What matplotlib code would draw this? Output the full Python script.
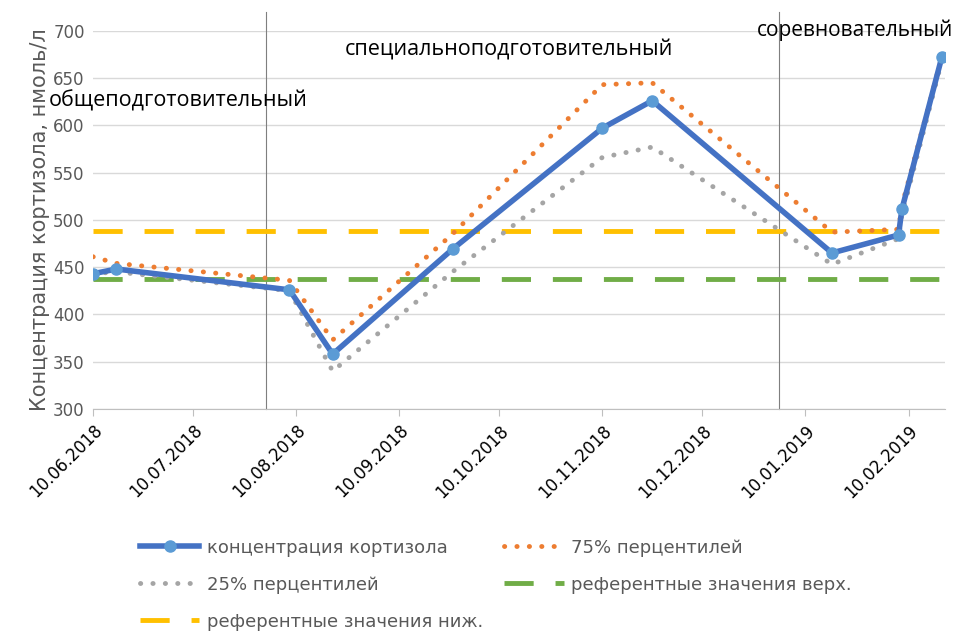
import datetime as dt
import matplotlib
matplotlib.use('Agg')
import matplotlib.pyplot as plt
import matplotlib.dates as mdates

# Data
dates = ['10.06.2018', '17.06.2018', '08.08.2018', '21.08.2018', '26.09.2018',
         '10.11.2018', '25.11.2018', '18.01.2019', '07.02.2019', '08.02.2019',
         '20.02.2019']
cortisol = [443, 448, 426, 358, 469, 597, 626, 465, 484, 511, 672]
p75 = [461, 454, 436, 373, 485, 643, 645, 487, 490, 515, 672]
p25 = [443, 445, 425, 340, 445, 566, 577, 453, 480, 505, 668]
ref_upper = [437] * len(dates)
ref_lower = [488] * len(dates)

tick_dates = ['10.06.2018', '10.07.2018', '10.08.2018', '10.09.2018', '10.10.2018',
              '10.11.2018', '10.12.2018', '10.01.2019', '10.02.2019']
phase_bounds = ['01.08.2018', '02.01.2019']

to_date = lambda s: dt.datetime.strptime(s, '%d.%m.%Y')
x = [to_date(d) for d in dates]

txt_grey = '#595959'
dots = (0, (0.05, 2.5))

fig = plt.figure(figsize=(9.65, 6.41), dpi=100)
ax = fig.add_axes([0.0964, 0.362, 0.883, 0.590])

# Reference lines
ax.plot(x, ref_upper, color='#70AD47', lw=3.5, dashes=(6, 4.5), label='референтные значения верх.')
ax.plot(x, ref_lower, color='#FFC000', lw=3.5, dashes=(6, 4.5), label='референтные значения ниж.')
# Percentiles
ax.plot(x, p25, color='#A5A5A5', lw=3.5, linestyle=dots, dash_capstyle='round',
        label='25% перцентилей')
ax.plot(x, p75, color='#ED7D31', lw=3.5, linestyle=dots, dash_capstyle='round',
        label='75% перцентилей')
# Main series
ax.plot(x, cortisol, color='#4472C4', lw=4, marker='o', markersize=8,
        markerfacecolor='#5B9BD5', markeredgecolor='#5B9BD5', label='концентрация кортизола')

# Phase boundaries
for b in phase_bounds:
    ax.plot([to_date(b)] * 2, [300, 720], color='#7F7F7F', lw=0.8, clip_on=False, zorder=1)

ax.set_xlim(to_date('10.06.2018'), to_date('21.02.2019'))
ax.set_ylim(300, 700)
ax.set_yticks(range(300, 701, 50))
ax.set_xticks([to_date(d) for d in tick_dates])
ax.xaxis.set_major_formatter(mdates.DateFormatter('%d.%m.%Y'))
ax.grid(axis='y', color='#D9D9D9', lw=1)
ax.set_axisbelow(True)
for s in ['top', 'right', 'left']:
    ax.spines[s].set_visible(False)
ax.spines['bottom'].set_color('#BFBFBF')
ax.tick_params(axis='y', length=0, labelsize=12, labelcolor=txt_grey, pad=6)
ax.tick_params(axis='x', direction='out', length=5, color='#BFBFBF', labelsize=12,
               labelcolor='black', pad=4)
for lab in ax.get_xticklabels():
    lab.set_rotation(45)
    lab.set_ha('right')
    lab.set_rotation_mode('anchor')

ax.set_ylabel('Концентрация кортизола, нмоль/л', fontsize=15, color=txt_grey, labelpad=2)

# Phase names
fig.text(0.05, 0.843, 'общеподготовительный', fontsize=15.5, family='Open Sans', va='center')
fig.text(0.357, 0.922, 'специальноподготовительный', fontsize=15.5, family='Open Sans',
         va='center')
fig.text(0.784, 0.953, 'соревновательный', fontsize=15, family='Open Sans', va='center')

handles, labels = ax.get_legend_handles_labels()
order = [4, 2, 1, 3, 0]  # column-major fill: rows [cortisol, 75%], [25%, upper], [lower]
leg = fig.legend([handles[i] for i in order], [labels[i] for i in order], ncol=2,
                 loc='upper left', bbox_to_anchor=(0.128, 0.185), frameon=False,
                 prop={'size': 13}, labelcolor=txt_grey,
                 handlelength=3.3, columnspacing=1.2, labelspacing=1.05, handletextpad=0.4)

fig.savefig('out.png', dpi=100)
